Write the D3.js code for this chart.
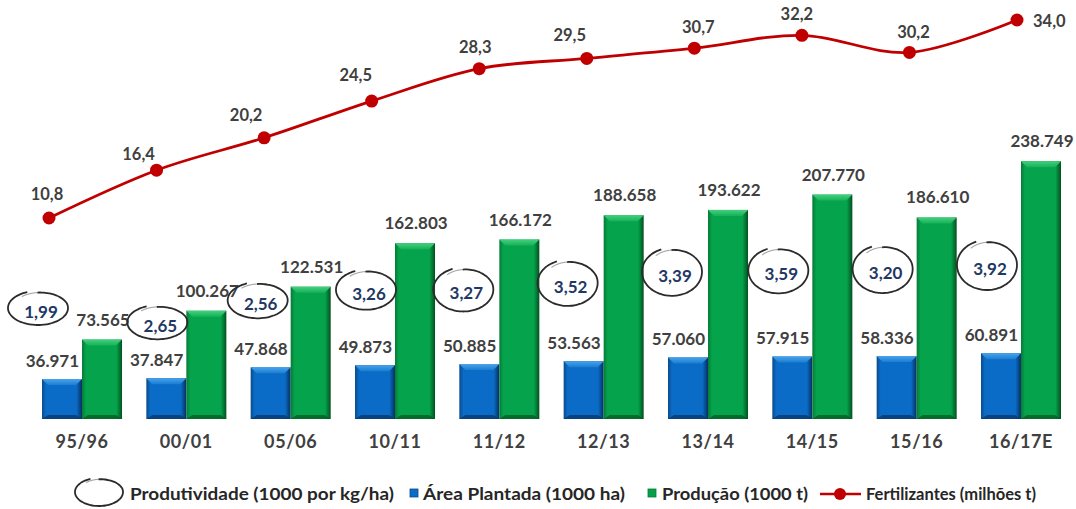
<!DOCTYPE html>
<html><head><meta charset="utf-8">
<script src="https://cdn.jsdelivr.net/npm/d3@7"></script>
<style>
body{margin:0;background:#fff;}
svg text{font-family:Lato,"Open Sans",sans-serif;font-weight:bold;}
</style>
</head><body>
<svg id="chart" width="1076" height="509"></svg>
<script>
// ---------- DATA ----------
const categories = ["95/96","00/01","05/06","10/11","11/12","12/13","13/14","14/15","15/16","16/17E"];
const areaPlantada = [36971,37847,47868,49873,50885,53563,57060,57915,58336,60891];
const producao = [73565,100267,122531,162803,166172,188658,193622,207770,186610,238749];
const fertilizantes = [10.8,16.4,20.2,24.5,28.3,29.5,30.7,32.2,30.2,34.0];
const produtividade = [1.99,2.65,2.56,3.26,3.27,3.52,3.39,3.59,3.20,3.92];
const seriesNames = ["Produtividade (1000 por kg/ha)","Área Plantada (1000 ha)","Produção (1000 t)","Fertilizantes (milhões t)"];

// ---------- LAYOUT (label nudges / annotation placement) ----------
const lineLabelDx = [-2,-18,-18,-16,-4,-17,4,-5,4,16];
const lineLabelDy = [-18,-10,-17,-20,-16,-17,-15,-15,-14,7];
const prodDx = [-4,11,7,11,4,4,4,6,6,6];
const prodDy = [0,29,5,10,10,9,-5,-2,-12,0];
const prodRy = [17,17,18,20,22,23,24,23,24,25];
const legendTextX = [130,423,662,866];
const legendTextW = [264,202,146,170];

const svg = d3.select("#chart");
const loc = d3.formatLocale({decimal:",", thousands:".", grouping:[3], currency:["",""]});
const fmtInt = loc.format(",d");
const fmt1 = loc.format(".1f");
const fmt2 = loc.format(".2f");

const baseY = 419;
const x0 = d3.scaleBand().domain(categories).range([42,1061]).paddingInner(0.233).paddingOuter(0);
const x1 = d3.scaleBand().domain(["area","prod"]).range([0,x0.bandwidth()]).padding(0);
const yBar = d3.scaleLinear().domain([0,250000]).range([baseY,149]);
const xLine = d3.scalePoint().domain(categories).range([49,1017]);
const yLine = d3.scaleLinear().domain([0,34]).range([310.2,20]);
const yProd = d3.scaleLinear().domain([1.99,3.92]).range([308,265]);

// gradients
const defs = svg.append("defs");
function hGrad(id, edge, mid, edge2){
  const g = defs.append("linearGradient").attr("id",id).attr("x1","0").attr("x2","1").attr("y1","0").attr("y2","0");
  [[0,edge],[0.1,mid],[0.86,mid],[1,edge2]].forEach(s=>g.append("stop").attr("offset",s[0]).attr("stop-color",s[1]));
}
function vGrad(id, c1, c2){
  const g = defs.append("linearGradient").attr("id",id).attr("x1","0").attr("x2","0").attr("y1","0").attr("y2","1");
  g.append("stop").attr("offset",0).attr("stop-color",c1);
  g.append("stop").attr("offset",1).attr("stop-color",c2);
}
hGrad("gBlue","#0b4a8c","#0a6cc6","#062f5e");
hGrad("gGreen","#067a37","#05a34c","#03501f");
vGrad("tBlue","#4aa3ea","#1a7ed2");
vGrad("tGreen","#46cf7c","#14b25a");
const colors = {area:{body:"url(#gBlue)",top:"url(#tBlue)",bottom:"#08396e",leg:"#0a6cc6"},
                prod:{body:"url(#gGreen)",top:"url(#tGreen)",bottom:"#045c26",leg:"#06a04a"}};

// ---------- BARS ----------
const groups = svg.append("g").selectAll("g").data(categories).join("g")
  .attr("transform", c=>`translate(${x0(c)},0)`);
groups.each(function(c,i){
  const g = d3.select(this);
  [["area",areaPlantada[i]],["prod",producao[i]]].forEach(([k,v])=>{
    const bx = x1(k), bw = x1.bandwidth(), by = yBar(v), bh = baseY-by;
    g.append("rect").attr("x",bx).attr("y",by).attr("width",bw).attr("height",bh).attr("fill",colors[k].body);
    const b = 6;
    g.append("path").attr("d",`M${bx},${by}L${bx+bw},${by}L${bx+bw-b},${by+b}L${bx+b},${by+b}Z`).attr("fill",colors[k].top);
    g.append("path").attr("d",`M${bx},${baseY}L${bx+bw},${baseY}L${bx+bw-b},${baseY-4}L${bx+b},${baseY-4}Z`).attr("fill",colors[k].bottom).attr("opacity",0.8);
    if(k==="area"){
      g.append("text").attr("x",bx+bw-3).attr("y",by-12).attr("text-anchor","end")
        .attr("font-size",17).attr("fill","#404040").text(fmtInt(v));
    } else {
      g.append("text").attr("x",bx+bw/2+1).attr("y",by-14).attr("text-anchor","middle")
        .attr("font-size",17).attr("fill","#404040").text(fmtInt(v));
    }
  });
});

// category axis labels
svg.append("g").selectAll("text").data(categories).join("text")
  .attr("x",c=>x0(c)+x0.bandwidth()/2).attr("y",448).attr("text-anchor","middle")
  .attr("font-size",18).attr("letter-spacing",0.6).attr("fill","#404040").text(c=>c);

// ---------- PRODUTIVIDADE ELLIPSES ----------
function loopPath(cx, cy, rx, ry, t0, t1){
  const pts = [], a0 = -2.25, sweep = Math.PI*2*1.05, N = 80;
  for(let i=0;i<=N;i++){
    const t = t0 + (t1-t0)*i/N;
    const a = a0 + t*sweep;
    const k = 0.86 + 0.14*Math.min(1, t/0.3);
    pts.push([cx + rx*k*Math.cos(a), cy + ry*k*Math.sin(a)]);
  }
  return d3.line().curve(d3.curveCatmullRom)(pts);
}
function drawLoop(g, cx, cy, rx, ry){
  g.append("path").attr("d",loopPath(cx,cy,rx,ry,0,0.14)).attr("fill","none").attr("stroke","#a6a6a6").attr("stroke-width",1.1);
  g.append("path").attr("d",loopPath(cx,cy,rx,ry,0.1,1)).attr("fill","none").attr("stroke","#2b2b2b").attr("stroke-width",1.8);
}
const pg = svg.append("g");
categories.forEach((c,i)=>{
  const cx = x0(c) + prodDx[i];
  const cy = yProd(produtividade[i]) + prodDy[i];
  drawLoop(pg, cx, cy, 30, prodRy[i]);
  pg.append("text").attr("x",cx+3).attr("y",cy+4).attr("dy","0.35em").attr("text-anchor","middle")
    .attr("font-size",17).attr("fill","#1f3864").text(fmt2(produtividade[i]));
});

// ---------- FERTILIZANTES LINE ----------
const lineGen = d3.line().x((d,i)=>xLine(categories[i])).y(d=>yLine(d)).curve(d3.curveCardinal.tension(0));
svg.append("path").datum(fertilizantes).attr("d",lineGen).attr("fill","none")
  .attr("stroke","#c00000").attr("stroke-width",2.8);
svg.append("g").selectAll("circle").data(fertilizantes).join("circle")
  .attr("cx",(d,i)=>xLine(categories[i])).attr("cy",d=>yLine(d)).attr("r",6.5).attr("fill","#c00000");
svg.append("g").selectAll("text").data(fertilizantes).join("text")
  .attr("x",(d,i)=>xLine(categories[i])+lineLabelDx[i]).attr("y",(d,i)=>yLine(d)+lineLabelDy[i])
  .attr("text-anchor",(d,i)=>i===fertilizantes.length-1?"start":"middle")
  .attr("font-size",16.5).attr("fill","#404040").text(d=>fmt1(d));

// ---------- LEGEND ----------
const lg = svg.append("g");
const legY = 500, legFs = 17.5;
function legText(i){
  lg.append("text").attr("x",legendTextX[i]).attr("y",legY).attr("font-size",legFs)
    .attr("textLength",legendTextW[i]).attr("lengthAdjust","spacingAndGlyphs")
    .attr("fill","#262626").text(seriesNames[i]);
}
drawLoop(lg, 99, 492, 24, 14);
legText(0);
lg.append("rect").attr("x",410).attr("y",489).attr("width",8).attr("height",8).attr("fill",colors.area.leg).attr("stroke","#0b4a8c").attr("stroke-width",0.8);
legText(1);
lg.append("rect").attr("x",648).attr("y",489).attr("width",8).attr("height",8).attr("fill",colors.prod.leg).attr("stroke","#067a37").attr("stroke-width",0.8);
legText(2);
lg.append("line").attr("x1",820).attr("x2",861).attr("y1",494).attr("y2",494).attr("stroke","#c00000").attr("stroke-width",2.6);
lg.append("circle").attr("cx",840).attr("cy",494).attr("r",6).attr("fill","#c00000");
legText(3);
</script>
</body></html>
